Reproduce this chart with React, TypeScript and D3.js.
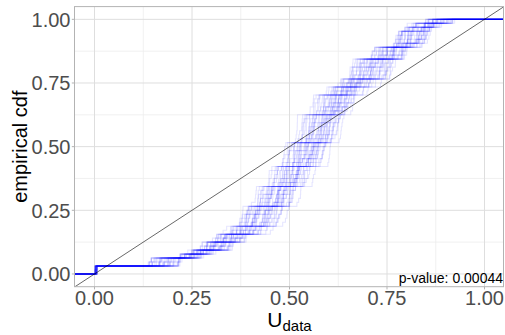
import React, { useEffect, useRef } from "react";
import * as d3 from "d3";

// PIT intervals (grouped): lower / upper bound of the randomised PIT and how many obs share it
const pitLower = [0.0, 0.133, 0.21, 0.236, 0.265, 0.295, 0.325, 0.36, 0.39, 0.43, 0.462, 0.5, 0.535, 0.57, 0.6, 0.64, 0.7, 0.76, 0.77, 0.78, 0.835];
const pitUpper = [0.008, 0.231, 0.287, 0.312, 0.367, 0.4, 0.467, 0.505, 0.54, 0.58, 0.624, 0.65, 0.68, 0.714, 0.74, 0.775, 0.81, 0.87, 0.88, 0.9, 0.93];
const pitCounts = [2, 2, 1, 1, 2, 2, 2, 5, 5, 5, 6, 7, 5, 2, 2, 5, 3, 4, 1, 1, 1];

// ranks of the uniform draws used for the randomised PIT realisations
const drawRanks = [17, 3, 29, 11, 36, 8, 22, 0, 33, 14, 26, 5, 39, 19, 9, 31, 1, 24, 13, 37, 6, 28, 16, 34, 2, 21, 10, 38, 25, 4, 30, 15, 35, 7, 20, 12, 27, 32, 18, 23];

const xTicks = [0, 0.25, 0.5, 0.75, 1];
const yTicks = [0, 0.25, 0.5, 0.75, 1];
const tickLabels = ["0.00", "0.25", "0.50", "0.75", "1.00"];
const minorTicks = [0.125, 0.375, 0.625, 0.875];
const pValueLabel = "p-value: 0.00044";

const W = 505;
const H = 335;
const FONT = "'Liberation Sans', Arial, Helvetica, sans-serif";

const App = () => {
  const svgRef = useRef<SVGSVGElement>(null);

  useEffect(() => {
    const svg = d3.select(svgRef.current);
    svg.selectAll("*").remove();

    const x = d3.scaleLinear().domain([-0.05, 1.05]).range([75, 504]);
    const y = d3.scaleLinear().domain([-0.05, 1.05]).range([286.7, 6.6]);
    const [x0, x1] = x.range();
    const [y0, y1] = y.range();

    svg.append("rect").attr("width", W).attr("height", H).attr("fill", "white");

    svg.append("clipPath").attr("id", "panel")
      .append("rect").attr("x", x0).attr("y", y1).attr("width", x1 - x0).attr("height", y0 - y1);

    // grid
    svg.selectAll(".minx").data(minorTicks).join("line")
      .attr("x1", (d) => x(d)).attr("x2", (d) => x(d)).attr("y1", y0).attr("y2", y1)
      .attr("stroke", "#EDEDED").attr("stroke-width", 0.8);
    svg.selectAll(".miny").data(minorTicks).join("line")
      .attr("y1", (d) => y(d)).attr("y2", (d) => y(d)).attr("x1", x0).attr("x2", x1)
      .attr("stroke", "#EDEDED").attr("stroke-width", 0.8);
    svg.selectAll(".majx").data(xTicks).join("line")
      .attr("x1", (d) => x(d)).attr("x2", (d) => x(d)).attr("y1", y0).attr("y2", y1)
      .attr("stroke", "#DEDEDE").attr("stroke-width", 1);
    svg.selectAll(".majy").data(yTicks).join("line")
      .attr("y1", (d) => y(d)).attr("y2", (d) => y(d)).attr("x1", x0).attr("x2", x1)
      .attr("stroke", "#DEDEDE").attr("stroke-width", 1);

    // randomised PIT realisations -> ecdf step lines
    const nObs = d3.sum(pitCounts);
    const R = drawRanks.length;
    const realisations: [number, number][][] = [];
    for (let r = 0; r < R; r++) {
      const us: number[] = [];
      let i = 0;
      pitLower.forEach((lo, g) => {
        const groupDraw = (drawRanks[(r + g * 11) % R] + 0.5) / R;
        for (let j = 0; j < pitCounts[g]; j++) {
          const own = (drawRanks[(r * 3 + i * 7) % R] + 0.5) / R;
          const frac = 0.85 * groupDraw + 0.15 * own;
          us.push(lo + frac * (pitUpper[g] - lo));
          i++;
        }
      });
      us.sort((a, b) => a - b);
      const pts: [number, number][] = [[-0.05, 0]];
      us.forEach((u, k) => pts.push([u, (k + 1) / nObs]));
      pts.push([1.05, 1]);
      realisations.push(pts);
    }

    const line = d3.line<[number, number]>()
      .x((d) => x(d[0]))
      .y((d) => y(d[1]))
      .curve(d3.curveStepAfter);

    const g = svg.append("g").attr("clip-path", "url(#panel)");
    g.selectAll("path.ecdf").data(realisations).join("path")
      .attr("class", "ecdf")
      .attr("d", (d) => line(d))
      .attr("fill", "none")
      .attr("stroke", "#0000FF")
      .attr("stroke-opacity", 0.1)
      .attr("stroke-width", 1.1);

    // diagonal
    g.append("line")
      .attr("x1", x(-0.05)).attr("y1", y(-0.05)).attr("x2", x(1.05)).attr("y2", y(1.05))
      .attr("stroke", "#000").attr("stroke-width", 0.6);

    svg.append("text")
      .attr("x", x1 - 1).attr("y", 283)
      .attr("text-anchor", "end")
      .style("font-family", FONT).style("font-size", "14px").attr("fill", "#000")
      .text(pValueLabel);

    // panel border
    svg.append("rect")
      .attr("x", x0 - 0.5).attr("y", y1).attr("width", x1 - x0).attr("height", y0 - y1)
      .attr("fill", "none").attr("stroke", "#B3B3B3").attr("stroke-width", 1);

    // ticks
    svg.selectAll(".tx").data(xTicks).join("line")
      .attr("x1", (d) => x(d)).attr("x2", (d) => x(d)).attr("y1", y0).attr("y2", y0 + 2.7)
      .attr("stroke", "#B3B3B3");
    svg.selectAll(".ty").data(yTicks).join("line")
      .attr("y1", (d) => y(d)).attr("y2", (d) => y(d)).attr("x1", x0 - 3.2).attr("x2", x0 - 0.5)
      .attr("stroke", "#B3B3B3");

    svg.selectAll(".lx").data(xTicks).join("text")
      .attr("x", (d) => x(d)).attr("y", 305)
      .attr("text-anchor", "middle")
      .style("font-family", FONT).style("font-size", "20px").attr("fill", "#4D4D4D")
      .text((d, i) => tickLabels[i]);
    svg.selectAll(".ly").data(yTicks).join("text")
      .attr("x", 70.5).attr("y", (d) => y(d)).attr("dy", "0.36em")
      .attr("text-anchor", "end")
      .style("font-family", FONT).style("font-size", "20px").attr("fill", "#4D4D4D")
      .text((d, i) => tickLabels[i]);

    // axis titles
    svg.append("text")
      .attr("transform", `translate(27,${(y0 + y1) / 2}) rotate(-90)`)
      .attr("text-anchor", "middle")
      .style("font-family", FONT).style("font-size", "20px").attr("fill", "#000")
      .text("empirical cdf");

    const xt = svg.append("text")
      .attr("x", (x0 + x1) / 2).attr("y", 327)
      .attr("text-anchor", "middle")
      .style("font-family", FONT).attr("fill", "#000");
    xt.append("tspan").style("font-size", "21px").text("U");
    xt.append("tspan").style("font-size", "15px").attr("dy", 4).text("data");
  }, []);

  return (
    <div>
      <svg ref={svgRef} width={W} height={H} style={{ position: "absolute", left: 0, top: 0 }}></svg>
    </div>
  );
};

export default App;
